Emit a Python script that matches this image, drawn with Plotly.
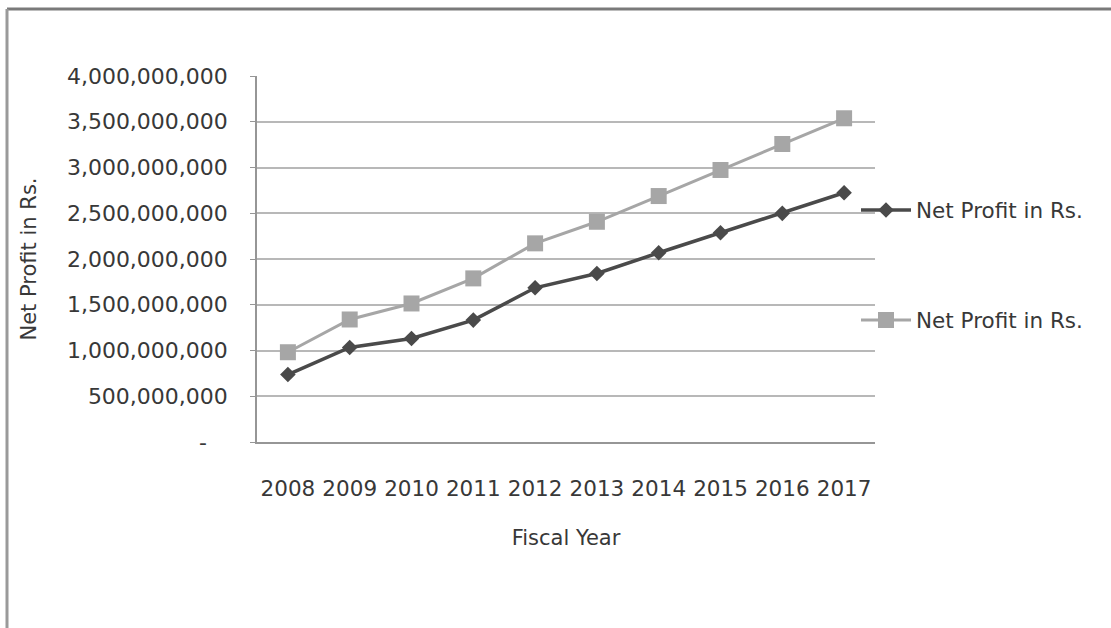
import plotly.graph_objects as go

# Fiscal years and net profit (Rs.) for the two series
years = ["2008", "2009", "2010", "2011", "2012", "2013", "2014", "2015", "2016", "2017"]
profit_dark = [737e6, 1033e6, 1131e6, 1332e6, 1685e6, 1842e6, 2068e6, 2287e6, 2499e6, 2724e6]
profit_light = [981e6, 1339e6, 1514e6, 1788e6, 2171e6, 2407e6, 2688e6, 2973e6, 3257e6, 3538e6]

# Y-axis ticks in accounting style (zero shown as a dash)
y_tickvals = [0, 500e6, 1000e6, 1500e6, 2000e6, 2500e6, 3000e6, 3500e6, 4000e6]
y_ticktext = ["-\u00a0\u00a0\u00a0", "500,000,000", "1,000,000,000", "1,500,000,000",
              "2,000,000,000", "2,500,000,000", "3,000,000,000", "3,500,000,000",
              "4,000,000,000"]

FONT = "DejaVu Sans"
TEXT = "#383838"
DARK = "#4a4a4a"
LIGHT = "#a6a6a6"

W, H = 1111, 628
L, R, T, B = 257, 236, 76, 186
PW, PH = W - L - R, H - T - B


def px_x(px):
    return (px - L) / PW


def px_y(py):
    return 1 - (py - T) / PH


fig = go.Figure()
fig.add_trace(go.Scatter(
    x=years, y=profit_dark, name="Net Profit in Rs.", mode="lines+markers",
    line=dict(color=DARK, width=3.5),
    marker=dict(symbol="diamond", size=12, color=DARK),
    legend="legend",
))
fig.add_trace(go.Scatter(
    x=years, y=profit_light, name="Net Profit in Rs.", mode="lines+markers",
    line=dict(color=LIGHT, width=3),
    marker=dict(symbol="square", size=16, color=LIGHT),
    legend="legend2",
))

legend_common = dict(
    font=dict(family=FONT, size=21.5, color=TEXT),
    bgcolor="rgba(0,0,0,0)", borderwidth=0,
    xanchor="left", yanchor="middle", itemwidth=50,
)

fig.update_layout(
    width=W, height=H,
    margin=dict(l=L, r=R, t=T, b=B, pad=0),
    paper_bgcolor="white", plot_bgcolor="white",
    font=dict(family=FONT, size=21, color=TEXT),
    showlegend=True,
    legend=dict(x=px_x(856), y=px_y(210), **legend_common),
    legend2=dict(x=px_x(856), y=px_y(320), **legend_common),
    xaxis=dict(
        type="category", range=[-0.5, 9.5],
        showgrid=False, showline=True, linecolor="#969696", linewidth=1.5,
        ticks="", ticklabelstandoff=26,
        tickfont=dict(family=FONT, size=21.5, color=TEXT),
        title=dict(text="Fiscal Year", standoff=31,
                   font=dict(family=FONT, size=21, color=TEXT)),
        zeroline=False, fixedrange=True,
    ),
    yaxis=dict(
        range=[0, 4e9], tickvals=y_tickvals, ticktext=y_ticktext,
        showgrid=True, gridcolor="#b8b8b8", gridwidth=1.6,
        showline=True, linecolor="#969696", linewidth=1.5,
        ticks="outside", ticklen=5, tickcolor="#969696", ticklabelstandoff=18,
        tickfont=dict(family=FONT, size=22, color=TEXT),
        title=dict(text="Net Profit in Rs.", standoff=25,
                   font=dict(family=FONT, size=21, color=TEXT)),
        zeroline=False, fixedrange=True,
    ),
    shapes=[
        # frame edges along the top and left of the chart area
        dict(type="line", xref="paper", yref="paper",
             x0=px_x(7), x1=px_x(W), y0=px_y(9), y1=px_y(9),
             line=dict(color="#7a7a7a", width=3)),
        dict(type="line", xref="paper", yref="paper",
             x0=px_x(7), x1=px_x(7), y0=px_y(9), y1=px_y(H),
             line=dict(color="#9a9a9a", width=3)),
    ],
)

fig.write_html("out.html")
